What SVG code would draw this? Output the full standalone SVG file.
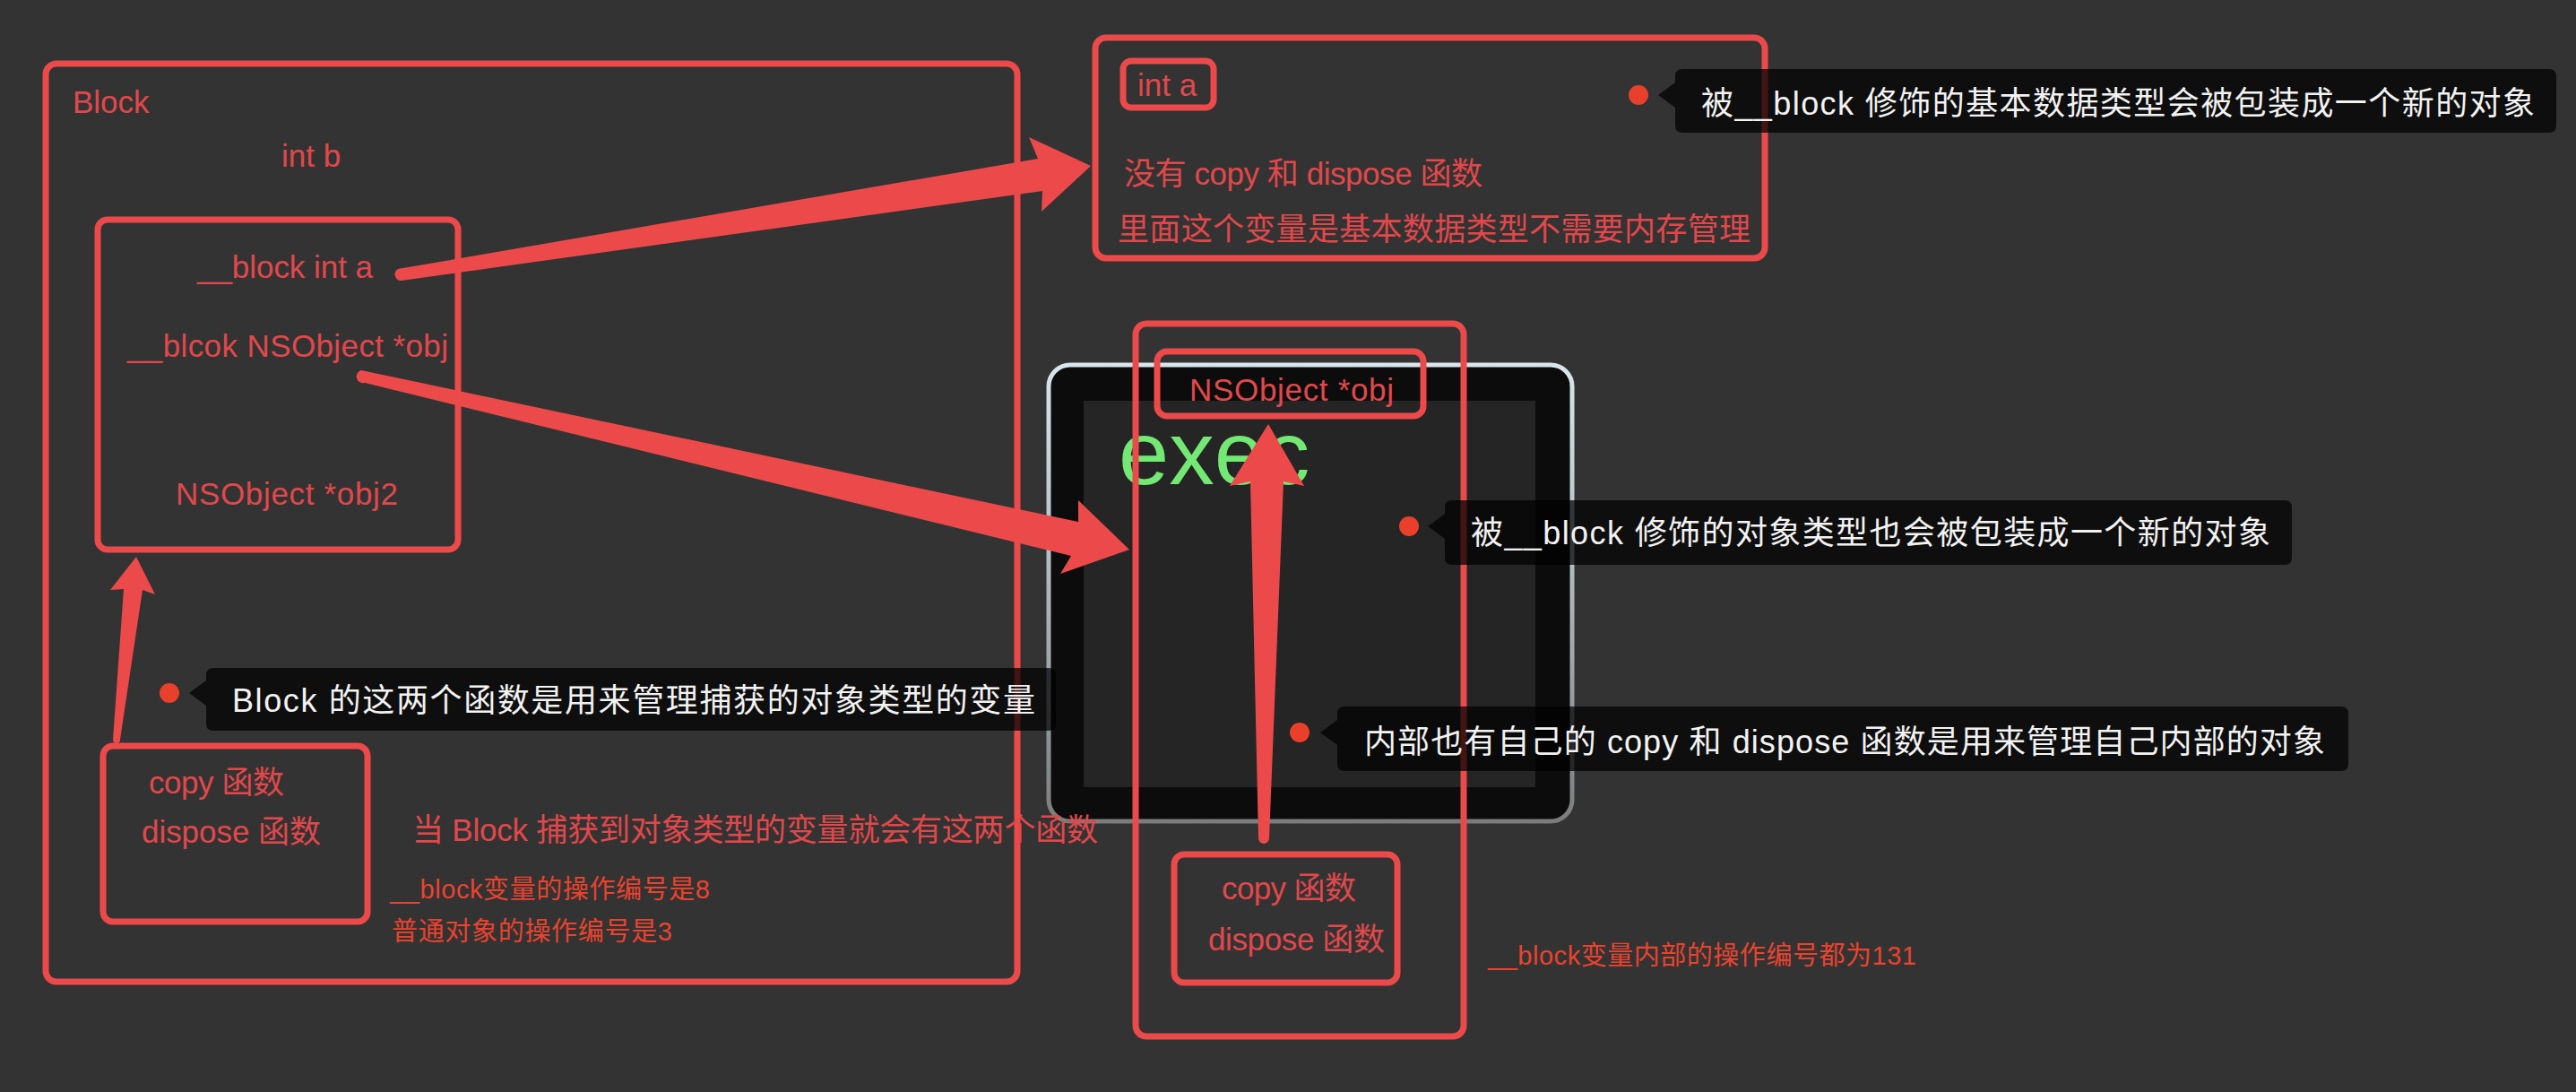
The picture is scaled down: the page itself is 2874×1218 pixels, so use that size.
<svg xmlns="http://www.w3.org/2000/svg" width="2874" height="1218" viewBox="0 0 2874 1218">
  <defs>
    <style>
      .box { fill: none; stroke: #ec4a4a; stroke-width: 7; }
      .lbl { font-family: "Liberation Sans", "Noto Sans CJK SC", sans-serif; font-size: 35px; fill: #e1484b; }
      .note { font-family: "Liberation Sans", "Noto Sans CJK SC", sans-serif; font-size: 29px; fill: #e9432f; }
      .tip { fill: #000000; fill-opacity: 0.72; }
      .tiptext { font-family: "Liberation Sans", "Noto Sans CJK SC", sans-serif; font-size: 36px; fill: #f2f2f2; }
      .dot { fill: #e8402a; }
      .arrow { fill: #ec4a4a; }
    </style>
    <linearGradient id="bezel" x1="0" y1="0" x2="0" y2="1">
      <stop offset="0" stop-color="#d8e6ec"/>
      <stop offset="0.6" stop-color="#a3adb1"/>
      <stop offset="1" stop-color="#7c7c7c"/>
    </linearGradient>
  </defs>

  <rect width="2874" height="1218" fill="#333333"/>

  <!-- terminal window with "exec" -->
  <g id="exec-window">
    <rect x="1170" y="407" width="584" height="509" rx="24" fill="#0c0c0c" stroke="url(#bezel)" stroke-width="5"/>
    <rect x="1209" y="447" width="504" height="431" fill="#252525"/>
    <text x="1248" y="540" font-family="Liberation Sans, sans-serif" font-size="101" fill="#74e874">exec</text>
  </g>

  <!-- Block structure -->
  <g id="block">
    <rect class="box" x="51" y="71" width="1084" height="1024" rx="12" stroke-width="6"/>
    <text class="lbl" x="81" y="126">Block</text>
    <text class="lbl" x="314" y="186">int b</text>
  </g>

  <g id="block-vars">
    <rect class="box" x="109" y="245" width="402" height="368" rx="11"/>
    <text class="lbl" x="220" y="310" textLength="196">__block int a</text>
    <text class="lbl" x="142" y="398" textLength="358">__blcok NSObject *obj</text>
    <text class="lbl" x="196" y="563" textLength="248">NSObject *obj2</text>
  </g>

  <g id="block-funcs">
    <rect class="box" x="115" y="832" width="295" height="196" rx="11"/>
    <text class="lbl" x="166" y="885" textLength="151">copy 函数</text>
    <text class="lbl" x="158" y="940" textLength="200">dispose 函数</text>
  </g>

  <g id="block-notes">
    <text class="lbl" x="460" y="938" textLength="765">当 Block 捕获到对象类型的变量就会有这两个函数</text>
    <text class="note" x="435" y="1002" textLength="357">__block变量的操作编号是8</text>
    <text class="note" x="437" y="1049" textLength="313">普通对象的操作编号是3</text>
  </g>

  <!-- wrapper for int a -->
  <g id="byref-int">
    <rect class="box" x="1222" y="42" width="747" height="246" rx="12"/>
    <rect class="box" x="1253" y="68" width="101" height="52" rx="9"/>
    <text class="lbl" x="1269" y="107">int a</text>
    <text class="lbl" x="1254" y="206" textLength="400">没有 copy 和 dispose 函数</text>
    <text class="lbl" x="1247" y="268" textLength="706">里面这个变量是基本数据类型不需要内存管理</text>
  </g>

  <!-- wrapper for NSObject *obj -->
  <g id="byref-obj">
    <rect class="box" x="1267" y="361" width="366" height="795" rx="12"/>
    <rect class="box" x="1291" y="392" width="297" height="72" rx="11"/>
    <text class="lbl" x="1327" y="447" textLength="228">NSObject *obj</text>
  </g>

  <g id="byref-funcs">
    <rect class="box" x="1310" y="953" width="249" height="143" rx="11"/>
    <text class="lbl" x="1363" y="1003" textLength="150">copy 函数</text>
    <text class="lbl" x="1348" y="1060" textLength="197">dispose 函数</text>
    <text class="note" x="1660" y="1076" textLength="478">__block变量内部的操作编号都为131</text>
  </g>

  <!-- connectors -->
  <g id="connectors">
    <path class="arrow" d="M444,300 L1158,177 L1148,153 L1217,185 L1162,236 L1163,213 L448,313 A7,7 0 0 1 444,300 Z"/>
    <path class="arrow" d="M403,413 L1203,582 L1203,558 L1260,613 L1183,640 L1195,620 L407,427 A7,7 0 0 1 403,413 Z"/>
    <path class="arrow" d="M126,825 L138,657 L123,658 L152,621 L173,663 L159,658 L134,825 A4,4 0 0 1 126,825 Z"/>
    <path class="arrow" d="M1404,935 L1395,537 L1372,542 L1415,473 L1455,542 L1432,537 L1416,935 A6,6 0 0 1 1404,935 Z"/>
  </g>

  <!-- callouts -->
  <g id="callout-int">
    <circle class="dot" cx="1828" cy="106" r="11"/>
    <path class="tip" d="M1877,77 H2844 Q2852,77 2852,85 V140 Q2852,148 2844,148 H1877 Q1869,148 1869,140 V120 L1850,106 L1869,92 V85 Q1869,77 1877,77 Z"/>
    <text class="tiptext" x="1898" y="128" textLength="930">被__block 修饰的基本数据类型会被包装成一个新的对象</text>
  </g>

  <g id="callout-obj">
    <circle class="dot" cx="1572" cy="587" r="11"/>
    <path class="tip" d="M1620,558 H2549 Q2557,558 2557,566 V622 Q2557,630 2549,630 H1620 Q1612,630 1612,622 V601 L1593,587 L1612,573 V566 Q1612,558 1620,558 Z"/>
    <text class="tiptext" x="1641" y="607" textLength="892">被__block 修饰的对象类型也会被包装成一个新的对象</text>
  </g>

  <g id="callout-inner-funcs">
    <circle class="dot" cx="1450" cy="817" r="11"/>
    <path class="tip" d="M1500,788 H2612 Q2620,788 2620,796 V852 Q2620,860 2612,860 H1500 Q1492,860 1492,852 V831 L1473,817 L1492,803 V796 Q1492,788 1500,788 Z"/>
    <text class="tiptext" x="1522" y="840" textLength="1072">内部也有自己的 copy 和 dispose 函数是用来管理自己内部的对象</text>
  </g>

  <g id="callout-block-funcs">
    <circle class="dot" cx="189" cy="773" r="11"/>
    <path class="tip" d="M238,745 H1170 Q1178,745 1178,753 V807 Q1178,815 1170,815 H238 Q230,815 230,807 V787 L211,773 L230,759 V753 Q230,745 238,745 Z"/>
    <text class="tiptext" x="259" y="794" textLength="896">Block 的这两个函数是用来管理捕获的对象类型的变量</text>
  </g>
</svg>
